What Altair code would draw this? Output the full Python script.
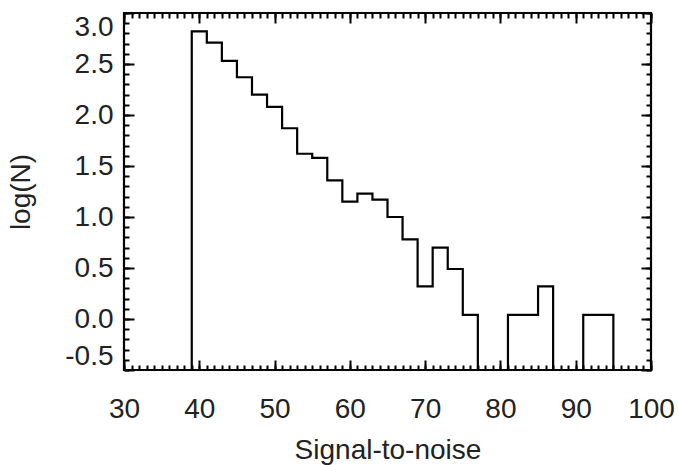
import altair as alt
import pandas as pd
import numpy as np

# Histogram: bin left edges (width 2) and log(N) values (None = empty bin)
bin_left = [39, 41, 43, 45, 47, 49, 51, 53, 55, 57, 59, 61, 63, 65, 67, 69, 71, 73,
            75, 77, 79, 81, 83, 85, 87, 89, 91, 93]
log_n = [2.82, 2.71, 2.53, 2.37, 2.20, 2.08, 1.87, 1.62, 1.58, 1.36, 1.15, 1.23, 1.17,
         1.00, 0.78, 0.32, 0.70, 0.49, 0.04, None, None, 0.04, 0.04, 0.32, None, None,
         0.04, 0.04]
bin_width = 2

x_ticks = [30, 40, 50, 60, 70, 80, 90, 100]
y_ticks = [-0.5, 0.0, 0.5, 1.0, 1.5, 2.0, 2.5, 3.0]
x_domain = [30, 100]
y_domain = [-0.5, 3.0]

floor = y_domain[0]
xs, ys = [bin_left[0]], [floor]
for b, v in zip(bin_left, log_n):
    xs.append(b)
    ys.append(floor if v is None else v)
xs.append(bin_left[-1] + bin_width)
ys.append(floor)
df = pd.DataFrame({"x": xs, "y": ys, "i": list(range(len(xs)))})

x_minor = [float(v) for v in np.arange(30, 100.5, 1)]
y_minor = [round(float(v), 2) for v in np.arange(-0.5, 3.05, 0.1)]

FONT = "Liberation Sans"
FS = 28
xs_scale = alt.Scale(domain=x_domain, nice=False, zero=False)
ys_scale = alt.Scale(domain=y_domain, nice=False, zero=False)


def layer(xaxis, yaxis, opacity):
    return alt.Chart(df).mark_line(
        interpolate="step-after", color="black", strokeWidth=2.2, clip=True, opacity=opacity
    ).encode(
        x=alt.X("x:Q", scale=xs_scale, axis=xaxis),
        y=alt.Y("y:Q", scale=ys_scale, axis=yaxis),
        order="i:Q",
    )


common = dict(domain=False, grid=False, tickColor="black", tickWidth=2)

main = layer(
    alt.Axis(orient="bottom", values=x_ticks, tickSize=10, offset=-10, labelPadding=25,
             labelFontSize=FS, labelFont=FONT, labelColor="#222", labelFlush=False,
             title="Signal-to-noise", titleFontSize=FS, titleFont=FONT,
             titleFontWeight="normal", titleColor="#222", titlePadding=13, **common),
    alt.Axis(orient="left", values=y_ticks, tickSize=10, offset=-10,
             labelExpr="(datum.value < 0 ? '-' : '') + format(abs(datum.value), '.1f')",
             labelPadding=11, labelFontSize=FS, labelFont=FONT, labelColor="#222",
             labelFlush=True, labelFlushOffset=0,
             title="log(N)", titleFontSize=FS, titleFont=FONT, titleFontWeight="normal",
             titleColor="#222", titlePadding=29, **common),
    1,
)
minor_bl = layer(
    alt.Axis(orient="bottom", values=x_minor, tickSize=5, offset=-5, labels=False,
             title=None, **common),
    alt.Axis(orient="left", values=y_minor, tickSize=5, offset=-5, labels=False,
             title=None, **common),
    0,
)
major_tr = layer(
    alt.Axis(orient="top", values=x_ticks, tickSize=10, offset=-10, labels=False,
             title=None, **common),
    alt.Axis(orient="right", values=y_ticks, tickSize=10, offset=-10, labels=False,
             title=None, **common),
    0,
)
minor_tr = layer(
    alt.Axis(orient="top", values=x_minor, tickSize=5, offset=-5, labels=False,
             title=None, **common),
    alt.Axis(orient="right", values=y_minor, tickSize=5, offset=-5, labels=False,
             title=None, **common),
    0,
)

chart = alt.layer(minor_bl, major_tr, minor_tr, main).resolve_axis(
    x="independent", y="independent"
).properties(
    width=527, height=357,
    autosize=alt.AutoSizeParams(type="none"),
    padding={"left": 124, "top": 13, "right": 27, "bottom": 95},
).configure_view(stroke="black", strokeWidth=2.2)

chart.save("out.html", embed_options={"renderer": "svg", "actions": False})
